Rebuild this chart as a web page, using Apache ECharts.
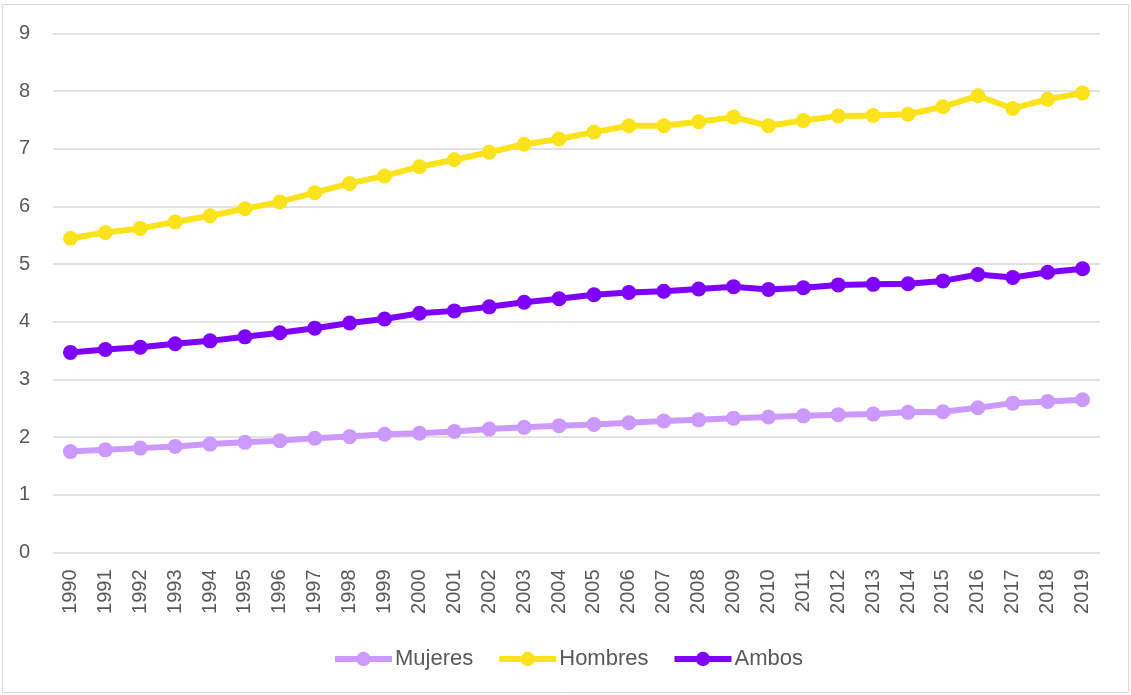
<!DOCTYPE html>
<html>
<head>
<meta charset="utf-8">
<script src="https://cdn.jsdelivr.net/npm/echarts@6/dist/echarts.min.js"></script>
<style>
  html, body { margin: 0; padding: 0; background: #ffffff; }
  #chart { width: 1131px; height: 695px; }
</style>
</head>
<body>
<div id="chart"></div>
<script>
// Years on the category axis
const years = ['1990','1991','1992','1993','1994','1995','1996','1997','1998','1999',
  '2000','2001','2002','2003','2004','2005','2006','2007','2008','2009',
  '2010','2011','2012','2013','2014','2015','2016','2017','2018','2019'];

// Series values
const mujeres = [1.75,1.78,1.81,1.84,1.88,1.91,1.94,1.98,2.01,2.05,
  2.07,2.10,2.14,2.17,2.20,2.22,2.25,2.28,2.30,2.33,
  2.35,2.37,2.39,2.40,2.43,2.44,2.51,2.59,2.62,2.65];
const hombres = [5.45,5.55,5.62,5.73,5.84,5.96,6.08,6.24,6.40,6.53,
  6.69,6.81,6.94,7.08,7.17,7.29,7.40,7.40,7.47,7.55,
  7.40,7.49,7.57,7.58,7.60,7.73,7.92,7.70,7.86,7.97];
const ambos = [3.47,3.52,3.56,3.62,3.67,3.74,3.81,3.89,3.98,4.05,
  4.15,4.19,4.26,4.34,4.40,4.47,4.51,4.53,4.57,4.61,
  4.56,4.59,4.64,4.65,4.66,4.71,4.82,4.77,4.86,4.92];

const seriesNames = ['Mujeres', 'Hombres', 'Ambos'];
const seriesColors = ['#CC99FF', '#FBE31C', '#7F00FF'];
const seriesData = [mujeres, hombres, ambos];

const FONT = 'Liberation Sans, Arial, sans-serif';
const TEXT = '#595959';

const chart = echarts.init(document.getElementById('chart'), null, { renderer: 'canvas' });

chart.setOption({
  animation: false,
  backgroundColor: '#ffffff',
  graphic: [{
    type: 'rect',
    shape: { x: 2.5, y: 4.5, width: 1126, height: 688 },
    style: { fill: 'none', stroke: '#D9D9D9', lineWidth: 1 },
    silent: true
  }],
  grid: { left: 53, right: 31, top: 33.5, bottom: 142.5 },
  legend: {
    data: seriesNames,
    left: 327,
    top: 643,
    itemWidth: 57,
    itemHeight: 18,
    itemGap: 23,
    lineStyle: { width: 6 },
    textStyle: { color: TEXT, fontSize: 22, fontFamily: FONT, padding: [0, 0, 0, -2] }
  },
  xAxis: {
    type: 'category',
    data: years,
    boundaryGap: true,
    axisLine: { show: false },
    axisTick: { show: false },
    axisLabel: {
      rotate: 90,
      margin: 17,
      color: TEXT,
      fontSize: 20,
      fontFamily: FONT,
      interval: 0
    }
  },
  yAxis: {
    type: 'value',
    min: 0,
    max: 9,
    interval: 1,
    axisLine: { show: false },
    axisTick: { show: false },
    splitLine: { lineStyle: { color: '#D9D9D9', width: 1.5 } },
    axisLabel: { color: TEXT, fontSize: 20, fontFamily: FONT, margin: 23 }
  },
  series: seriesNames.map((name, i) => ({
    name: name,
    type: 'line',
    data: seriesData[i],
    symbol: 'circle',
    symbolSize: 15,
    color: seriesColors[i],
    lineStyle: { width: 6, color: seriesColors[i] },
    itemStyle: { color: seriesColors[i] },
    z: 2 + i
  }))
});
</script>
</body>
</html>
